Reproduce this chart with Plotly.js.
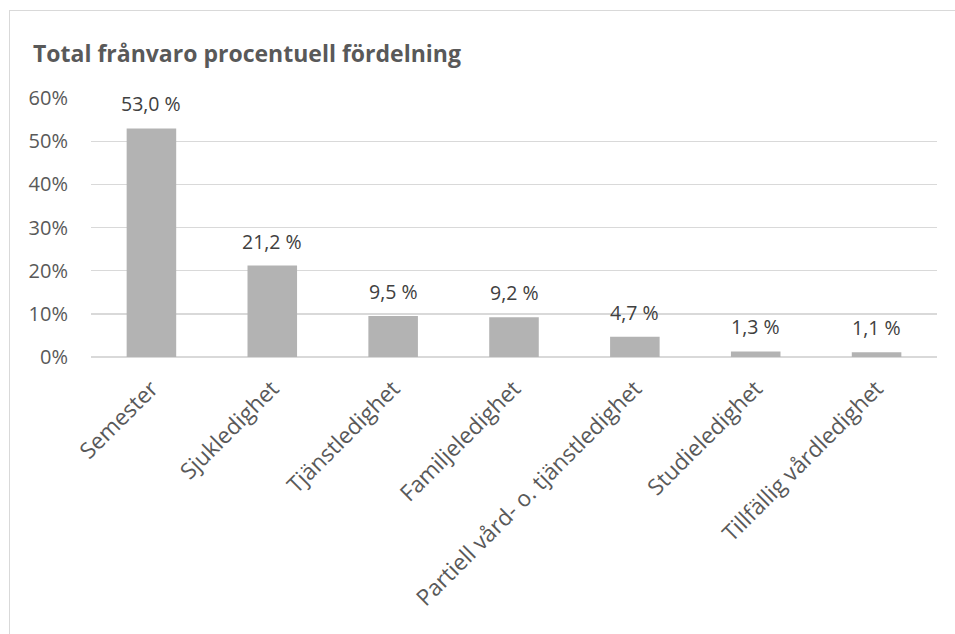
<!DOCTYPE html>
<html><head><meta charset="utf-8">
<script src="https://cdn.plot.ly/plotly-3.0.1.min.js"></script>
<style>
html,body{margin:0;padding:0;background:#fff;}
#wrap{position:relative;width:955px;height:634px;overflow:hidden;}
#frame{position:absolute;left:9px;top:10px;width:980px;height:660px;border:1px solid #d9d9d9;box-sizing:border-box;}
#chart{position:absolute;left:0;top:0;width:955px;height:634px;}
</style></head>
<body><div id="wrap"><div id="frame"></div><div id="chart"></div></div>
<script>
const categories = ["Semester","Sjukledighet","Tjänstledighet","Familjeledighet","Partiell vård- o. tjänstledighet","Studieledighet","Tillfällig vårdledighet"];
const values = [53.0, 21.2, 9.5, 9.2, 4.7, 1.3, 1.1];
const tickVals = [0,10,20,30,40,50,60];
const tickText = ["0%","10%","20%","30%","40%","50%","60%"];
const labels = values.map(v => v.toFixed(1).replace('.', ',') + ' %');
const font = "'Open Sans', sans-serif";
const annotations = categories.map((c,i) => ({
  x:c, y:values[i], xref:'x', yref:'y', text:labels[i], showarrow:false,
  yanchor:'bottom', yshift:9, font:{family:font,size:19.5,color:'#404040'}
}));
Plotly.newPlot('chart', [{
  type:'bar', x:categories, y:values,
  marker:{color:'#b3b3b3'}, hoverinfo:'none'
}], {
  width:955, height:634, paper_bgcolor:'rgba(0,0,0,0)', plot_bgcolor:'rgba(0,0,0,0)',
  margin:{l:91,r:18,t:98,b:277}, bargap:0.59, showlegend:false,
  annotations:annotations,
  title:{text:'<b>Total frånvaro procentuell fördelning</b>', x:0, xref:'paper', xanchor:'left', y:0.928, yref:'container',
    font:{family:font,size:23,color:'#595959'}, pad:{l:-58}},
  xaxis:{tickangle:-45, tickfont:{family:font,size:22.5,color:'#595959'}, showgrid:false, showline:false, ticks:'', zeroline:false, ticklabelstandoff:13},
  yaxis:{range:[0,60.05], tickvals:tickVals, ticktext:tickText, showgrid:true, gridcolor:'#d9d9d9', gridwidth:1.5,
    zeroline:true, zerolinecolor:'#d9d9d9', zerolinewidth:1.5, ticks:'', ticklabelstandoff:22,
    tickfont:{family:font,size:20,color:'#595959'}}
}, {staticPlot:true});
</script></body></html>
